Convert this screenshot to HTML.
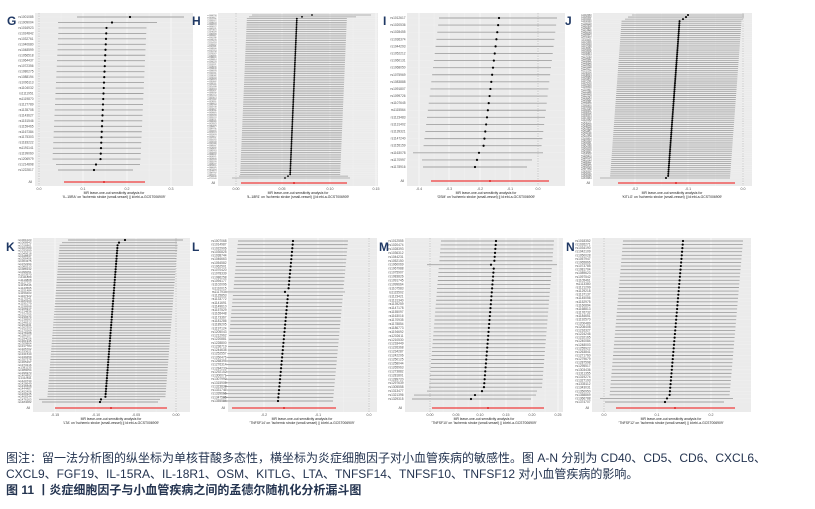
<!DOCTYPE html>
<html><head><meta charset="utf-8">
<style>
html,body{margin:0;padding:0;background:#fff;width:815px;height:509px;overflow:hidden}
#cap{position:absolute;left:6px;top:450px;font-family:"Liberation Sans","Noto Sans CJK SC",sans-serif;font-size:12px;color:#243450;line-height:16px;white-space:nowrap}
svg{position:absolute;left:0;top:0}
</style></head><body>
<svg id="s" width="815" height="440" xmlns="http://www.w3.org/2000/svg" font-family="Liberation Sans, sans-serif">
<g font-size="12" font-weight="bold" fill="#1f3864">
<text x="7" y="25">G</text><text x="192" y="25">H</text><text x="383" y="25">I</text><text x="565" y="25">J</text>
<text x="6" y="251">K</text><text x="192" y="251">L</text><text x="379" y="251">M</text><text x="566" y="251">N</text>
</g>
<g font-size="3.6" fill="#555" text-anchor="middle">
<text x="39" y="190">0.0</text><text x="83" y="190">0.1</text><text x="127" y="190">0.2</text><text x="171" y="190">0.3</text>
<text x="236" y="190">0.00</text><text x="282" y="190">0.05</text><text x="330" y="190">0.10</text><text x="376" y="190">0.15</text>
<text x="419" y="190">-0.4</text><text x="449" y="190">-0.3</text><text x="480" y="190">-0.2</text><text x="510" y="190">-0.1</text><text x="538" y="190">0.0</text>
<text x="635" y="190">-0.2</text><text x="688" y="190">-0.1</text><text x="743" y="190">0.0</text>
<text x="55" y="416">-0.15</text><text x="96" y="416">-0.10</text><text x="136" y="416">-0.05</text><text x="176" y="416">0.00</text>
<text x="264" y="416">-0.2</text><text x="318" y="416">-0.1</text><text x="369" y="416">0.0</text>
<text x="430" y="416">0.00</text><text x="456" y="416">0.05</text><text x="480" y="416">0.10</text><text x="506" y="416">0.15</text><text x="532" y="416">0.20</text><text x="558" y="416">0.25</text>
<text x="604" y="416">0.0</text><text x="657" y="416">0.1</text><text x="711" y="416">0.2</text>
</g>
<g font-size="3.4" fill="#222" text-anchor="middle">
<text x="114" y="194">MR leave-one-out sensitivity analysis for</text><text x="114" y="198">'IL-15RA' on 'Ischemic stroke (small-vessel) || id:ebi-a-GCST006909'</text>
<text x="298" y="194">MR leave-one-out sensitivity analysis for</text><text x="298" y="198">'IL-18R1' on 'Ischemic stroke (small-vessel) || id:ebi-a-GCST006909'</text>
<text x="486" y="194">MR leave-one-out sensitivity analysis for</text><text x="486" y="198">'OSM' on 'Ischemic stroke (small-vessel) || id:ebi-a-GCST006909'</text>
<text x="672" y="194">MR leave-one-out sensitivity analysis for</text><text x="672" y="198">'KITLG' on 'Ischemic stroke (small-vessel) || id:ebi-a-GCST006909'</text>
<text x="111" y="420">MR leave-one-out sensitivity analysis for</text><text x="111" y="424">'LTA' on 'Ischemic stroke (small-vessel) || id:ebi-a-GCST006909'</text>
<text x="302" y="420">MR leave-one-out sensitivity analysis for</text><text x="302" y="424">'TNFSF14' on 'Ischemic stroke (small-vessel) || id:ebi-a-GCST006909'</text>
<text x="484" y="420">MR leave-one-out sensitivity analysis for</text><text x="484" y="424">'TNFSF10' on 'Ischemic stroke (small-vessel) || id:ebi-a-GCST006909'</text>
<text x="671" y="420">MR leave-one-out sensitivity analysis for</text><text x="671" y="424">'TNFSF12' on 'Ischemic stroke (small-vessel) || id:ebi-a-GCST006909'</text>
</g>
</svg>
<div id="cap">图注：留一法分析图的纵坐标为单核苷酸多态性，横坐标为炎症细胞因子对小血管疾病的敏感性。图 A-N 分别为 CD40、CD5、CD6、CXCL6、<br>CXCL9、FGF19、IL-15RA、IL-18R1、OSM、KITLG、LTA、TNFSF14、TNFSF10、TNFSF12 对小血管疾病的影响。<br><b>图 11 丨炎症细胞因子与小血管疾病之间的孟德尔随机化分析漏斗图</b></div>
<script>
var NS="http://www.w3.org/2000/svg",S=document.getElementById('s');
function panel(c){
 var g=document.createElementNS(NS,'g');S.insertBefore(g,S.firstChild);
 function add(t,a,txt){var e=document.createElementNS(NS,t);for(var k in a)e.setAttribute(k,a[k]);if(txt)e.textContent=txt;g.appendChild(e);return e;}
 add('rect',{x:c.x0,y:c.y0,width:c.x1-c.x0,height:c.y1-c.y0,fill:'#ebebeb'});
 for(var i=0;i<c.ticks.length;i++){add('line',{x1:c.ticks[i],x2:c.ticks[i],y1:c.y0,y2:c.y1,stroke:'#fff','stroke-width':0.6});
  if(i<c.ticks.length-1){var m=(c.ticks[i]+c.ticks[i+1])/2;add('line',{x1:m,x2:m,y1:c.y0,y2:c.y1,stroke:'#f6f6f6','stroke-width':0.3});}}
 add('line',{x1:c.zero,x2:c.zero,y1:c.y0,y2:c.y1,stroke:'#999','stroke-width':0.5,'stroke-dasharray':'1.5,1'});
 var n=c.n,sp=(c.yb-c.yt)/(n-1);
 for(var i=0;i<n;i++){
  var y=c.yt+i*sp;
  var p=c.pa+(c.pb-c.pa)*i/(n-1),l=p-c.wl,r=p+c.wr;
  if(c.ov&&c.ov[i-n]){var o=c.ov[i-n];p=o[0];l=o[1];r=o[2];}
  if(c.ov&&c.ov[i]){var o=c.ov[i];p=o[0];l=o[1];r=o[2];}
  add('line',{x1:c.x0,x2:c.x1,y1:y,y2:y,stroke:'#f4f4f4','stroke-width':0.3});
  add('line',{x1:l,x2:r,y1:y,y2:y,stroke:'#a3a3a3','stroke-width':Math.min(0.9,sp*0.4)});
  add('circle',{cx:p,cy:y,r:Math.min(1.1,sp*0.5),fill:'#000'});
  add('text',{x:c.x0-1.5,y:y+1,'font-size':Math.min(3.2,sp*1.1),fill:'#555','text-anchor':'end'},'rs'+(1000000+((i*7919+c.x0*31)%8999999)));
 }
 add('line',{x1:c.rl,x2:c.rr,y1:c.ya,y2:c.ya,stroke:'#f03c3c','stroke-width':1.2});
 add('circle',{cx:c.rd,cy:c.ya,r:1,fill:'#e02020'});
 add('text',{x:c.x0-3,y:c.ya+1,'font-size':3.2,fill:'#555','text-anchor':'end'},'All');
}
panel({x0:35,x1:193,y0:13,y1:186,ticks:[39,83,127,171],zero:39,n:29,yt:17,yb:170,ya:182,pa:107,pb:100,wl:48,wr:40,ov:{0:[130,77,184],1:[112,58,157],'-2':[96,56,140],'-1':[94,58,133]},rl:64,rr:145,rd:104});
panel({x0:218,x1:378,y0:13,y1:186,ticks:[236,282,330,376],zero:236,n:90,yt:15,yb:178,ya:183,pa:297,pb:290,wl:50,wr:50,ov:{0:[312,252,371],1:[302,249,356],'-2':[288,239,348],'-1':[285,232,350]},rl:241,rr:347,rd:294});
panel({x0:407,x1:565,y0:13,y1:186,ticks:[419,449,480,510,538],zero:538,n:22,yt:18,yb:167,ya:181,pa:499,pb:481,wl:60,wr:58,ov:{19:[479,413,543],20:[477,422,532],21:[475,423,527]},rl:431,rr:549,rd:490});
panel({x0:593,x1:752,y0:13,y1:186,ticks:[635,688,743],zero:743,n:80,yt:15,yb:178,ya:183,pa:680,pb:668,wl:58,wr:62,ov:{0:[688,632,744],1:[686,628,744],2:[683,625,743],'-1':[666,600,730]},rl:618,rr:735,rd:676});
panel({x0:33,x1:190,y0:238,y1:412,ticks:[55,96,136,176],zero:176,n:62,yt:240,yb:402,ya:408,pa:118,pb:105,wl:58,wr:60,ov:{0:[125,68,183],1:[119,62,177],'-2':[101,39,160],'-1':[100,42,158]},rl:55,rr:167,rd:111});
panel({x0:228,x1:377,y0:238,y1:412,ticks:[264,318,369],zero:369,n:45,yt:241,yb:401,ya:408,pa:293,pb:278,wl:55,wr:55,ov:{14:[285,226,345]},rl:232,rr:336,rd:284});
panel({x0:405,x1:563,y0:238,y1:412,ticks:[430,456,480,506,532,558],zero:430,n:41,yt:241,yb:399,ya:408,pa:496,pb:483,wl:55,wr:58,ov:{6:[491,427,557],'-3':[482,427,537],'-2':[475,414,536],'-1':[471,412,531]},rl:432,rr:544,rd:488});
panel({x0:592,x1:751,y0:238,y1:412,ticks:[604,657,711],zero:604,n:46,yt:241,yb:402,ya:408,pa:683,pb:669,wl:60,wr:60,ov:{'-2':[667,600,733],'-1':[665,605,724]},rl:616,rr:735,rd:675});
</script>
</body></html>
